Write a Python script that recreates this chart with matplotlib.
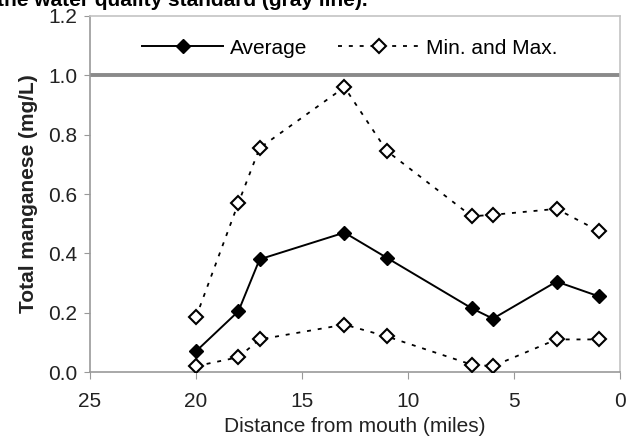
import matplotlib
matplotlib.use("Agg")
import matplotlib.pyplot as plt

plt.rcParams["font.family"] = ["Liberation Sans", "DejaVu Sans"]

# distance from mouth (miles) and total manganese (mg/L)
distance = [20, 18, 17, 13, 11, 7, 6, 3, 1]
average = [0.07, 0.205, 0.38, 0.47, 0.385, 0.215, 0.18, 0.305, 0.255]
maximum = [0.185, 0.57, 0.755, 0.96, 0.745, 0.525, 0.53, 0.55, 0.475]
minimum = [0.02, 0.05, 0.11, 0.16, 0.12, 0.025, 0.02, 0.11, 0.11]
standard = 1.0

fig = plt.figure(figsize=(6.29, 4.44), dpi=100)
ax = fig.add_axes([0.143, 0.162, 0.843, 0.802])

ax.axhline(standard, color="#8a8a8a", lw=2.8, zorder=1)

dash = (0, (2.2, 3.8))
open_kw = dict(color="black", lw=1.3, ls=dash, marker="D", ms=6.8,
               mfc="white", mec="black", mew=1.5, zorder=3)
ax.plot(distance, maximum, label="Min. and Max.", **open_kw)
ax.plot(distance, minimum, **open_kw)
ax.plot(distance, average, color="black", lw=1.4, marker="D", ms=7,
        mfc="black", mec="black", label="Average", zorder=4)

ax.set_xlim(25, 0)
ax.set_ylim(0, 1.2)
ax.set_xticks([25, 20, 15, 10, 5, 0])
ax.set_yticks([0.0, 0.2, 0.4, 0.6, 0.8, 1.0, 1.2])
ax.set_yticklabels([f"{v:.1f}" for v in ax.get_yticks()])

for name, side in ax.spines.items():
    side.set_linewidth(1.2)
    side.set_color("#999999" if name in ("left", "bottom") else "#c4c4c4")

ax.tick_params(axis="x", direction="out", length=5, color="#999999",
               labelsize=15, labelcolor="#222222", pad=9)
ax.tick_params(axis="y", direction="out", length=4, color="#999999",
               labelsize=15, labelcolor="#222222", pad=5)

ax.set_xlabel("Distance from mouth (miles)", fontsize=15, color="#222222",
              labelpad=5)
ax.set_ylabel("Total manganese (mg/L)", fontsize=15, fontweight="bold",
              color="#222222", labelpad=7)

handles, labels = ax.get_legend_handles_labels()
ax.legend([handles[1], handles[0]], [labels[1], labels[0]], loc="center",
          ncol=2, frameon=False, fontsize=15, handlelength=3.9,
          columnspacing=1.5, handletextpad=0.3, borderpad=0,
          bbox_to_anchor=(0.49, 0.91))

fig.text(-3 / 629, 1 - 6 / 444, "the water quality standard (gray line).",
         fontsize=15, fontweight="bold", va="baseline", ha="left")

fig.savefig("out.png", dpi=100)
